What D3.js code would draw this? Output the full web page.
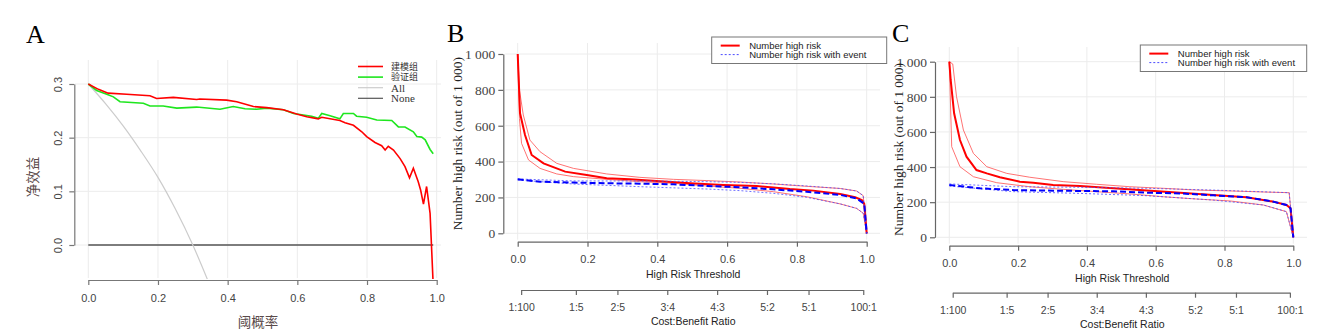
<!DOCTYPE html>
<html lang="zh">
<head>
  <meta charset="utf-8" />
  <title>DCA / clinical impact</title>
  <style>
    body { margin: 0; padding: 0; background: #fff; }
    svg { display: block; }
    .grid line { stroke: #ececec; stroke-width: 1; }
    .sans { font-family: "Liberation Sans", Arial, sans-serif; }
    .serif { font-family: "Liberation Serif", "Times New Roman", serif; }
  </style>
  <script src="https://d3js.org/d3.v7.min.js"></script>
</head>
<body>
  <svg width="1323" height="336"></svg>
  <script>
    // ---- Panel A: decision curves, [threshold, net benefit] ----
    const aModelKeys = ["建模组", "验证组", "All", "None"];
    const aModelColors = ["#ff0000", "#1ee61e", "#cccccc", "#555555"];
    const aTicksX = [0, 0.2, 0.4, 0.6, 0.8, 1.0];
    const aTicksY = [0, 0.1, 0.2, 0.3];

    const trainNB = [[0,0.300],[0.029,0.290],[0.057,0.283],[0.11,0.281],[0.177,0.278],[0.196,0.273],
      [0.244,0.275],[0.311,0.271],[0.32,0.272],[0.397,0.270],[0.426,0.267],[0.474,0.258],[0.512,0.256],
      [0.56,0.252],[0.598,0.244],[0.627,0.239],[0.66,0.235],[0.67,0.238],[0.722,0.232],[0.737,0.228],
      [0.761,0.223],[0.785,0.211],[0.799,0.202],[0.823,0.191],[0.842,0.185],[0.852,0.177],[0.861,0.184],
      [0.876,0.177],[0.895,0.161],[0.909,0.146],[0.922,0.125],[0.933,0.143],[0.947,0.118],[0.954,0.102],
      [0.962,0.076],[0.971,0.109],[0.981,0.059],[0.990,-0.075]];
    const validNB = [[0,0.300],[0.024,0.288],[0.053,0.281],[0.072,0.276],[0.091,0.267],[0.158,0.264],
      [0.177,0.259],[0.215,0.259],[0.254,0.255],[0.311,0.257],[0.378,0.253],[0.416,0.258],[0.45,0.254],
      [0.483,0.253],[0.512,0.255],[0.56,0.252],[0.589,0.245],[0.641,0.240],[0.66,0.236],[0.67,0.245],
      [0.694,0.241],[0.722,0.235],[0.732,0.245],[0.761,0.245],[0.770,0.240],[0.799,0.238],[0.828,0.233],
      [0.871,0.232],[0.890,0.220],[0.909,0.220],[0.933,0.211],[0.943,0.202],[0.957,0.201],[0.967,0.196],
      [0.981,0.178],[0.990,0.170]];
    const allNB = [[0,0.300],[0.05,0.263],[0.1,0.222],[0.15,0.176],[0.2,0.126],[0.25,0.067],
      [0.3,0.0],[0.35,-0.077]];
    const noneNB = [[0,0],[0.99,0]];

    // ---- Panels B / C: clinical impact curves, [threshold, number out of 1000] ----
    const impactKeys = ["Number high risk", "Number high risk with event"];
    const impactTicksY = [0, 200, 400, 600, 800, 1000];
    const costBenefit = ["1:100", "1:5", "2:5", "3:4", "4:3", "5:2", "5:1", "100:1"];

    const bHigh = [[0,1000],[0.0067,669],[0.021,548],[0.04,437],[0.074,390],[0.136,344],[0.198,325],
      [0.255,307],[0.322,301],[0.398,292],[0.494,279],[0.589,270],[0.685,264],[0.78,247],[0.847,238],
      [0.924,219],[0.967,201],[0.986,186],[0.993,164],[1,0]];
    const bHighUp = [[0,1000],[0.005,799],[0.016,660],[0.035,520],[0.064,455],[0.112,390],[0.16,362],
      [0.255,331],[0.35,312],[0.446,301],[0.542,294],[0.637,286],[0.733,275],[0.828,262],[0.924,250],
      [0.971,236],[0.990,210],[1,0]];
    const bHighLo = [[0,1000],[0.005,640],[0.011,502],[0.031,409],[0.064,362],[0.112,331],[0.16,316],
      [0.255,301],[0.35,288],[0.446,279],[0.542,264],[0.637,251],[0.733,232],[0.828,204],[0.924,164],
      [0.971,139],[0.99,112],[1,0]];
    const bEvent = [[0,301],[0.064,288],[0.16,283],[0.255,279],[0.35,277],[0.446,273],[0.542,264],
      [0.637,257],[0.733,245],[0.828,232],[0.924,214],[0.971,195],[0.993,164],[1,0]];
    const bEventUp = [[0,303],[0.16,292],[0.35,292],[0.542,288],[0.637,284],[0.733,276],[0.828,264],
      [0.924,250],[0.971,236],[0.990,210],[1,0]];
    const bEventLo = [[0,297],[0.16,275],[0.35,260],[0.542,247],[0.637,238],[0.733,223],[0.828,201],
      [0.924,164],[0.971,139],[0.99,112],[1,0]];

    const cHigh = [[0,1000],[0.004,896],[0.014,706],[0.031,554],[0.05,459],[0.079,383],[0.109,364],
      [0.147,342],[0.205,317],[0.244,311],[0.302,298],[0.38,292],[0.477,279],[0.574,266],[0.671,254],
      [0.767,241],[0.864,228],[0.942,203],[0.98,184],[0.992,165],[1,0]];
    const cHighUp = [[0,1000],[0.01,987],[0.021,801],[0.041,611],[0.07,478],[0.109,402],[0.167,364],
      [0.234,342],[0.331,317],[0.428,302],[0.525,288],[0.622,279],[0.719,269],[0.816,264],[0.913,258],
      [0.988,254],[1,0]];
    const cHighLo = [[0,1000],[0.007,516],[0.031,402],[0.07,345],[0.138,311],[0.234,288],[0.331,273],
      [0.428,260],[0.525,247],[0.622,231],[0.719,218],[0.816,207],[0.913,184],[0.98,146],[1,0]];
    const cEvent = [[0,298],[0.089,279],[0.186,269],[0.283,266],[0.38,264],[0.477,262],[0.574,254],
      [0.671,250],[0.767,239],[0.864,228],[0.942,203],[0.98,184],[0.992,165],[1,0]];
    const cEventUp = [[0,304],[0.186,288],[0.38,285],[0.574,279],[0.767,269],[0.988,254],[1,0]];
    const cEventLo = [[0,292],[0.186,260],[0.38,250],[0.574,237],[0.767,212],[0.913,184],[0.98,146],[1,0]];

    const svg = d3.select("svg");

    drawNetBenefit();
    drawImpact({
      letter: "B", letterX: 447, x0: 517.7, x1: 866.7, yTop: 54, yBot: 233.3,
      axisY: 503.3, gridTop: 43, gridRight: 880, xAxisY: 241.7, cbAxisY: 290,
      yLabelX: 457, legend: { x: 711.7, y: 37, w: 175, h: 26.5 },
      series: [bHigh, bHighUp, bHighLo, bEvent, bEventUp, bEventLo]
    });
    drawImpact({
      letter: "C", letterX: 892, x0: 949.3, x1: 1293.3, yTop: 61.7, yBot: 237.3,
      axisY: 935, gridTop: 47, gridRight: 1307, xAxisY: 245.7, cbAxisY: 292.7,
      yLabelX: 898, legend: { x: 1140.3, y: 45, w: 166.4, h: 26.5 },
      series: [cHigh, cHighUp, cHighLo, cEvent, cEventUp, cEventLo]
    });

    function styleAxis(g, color) {
      g.select(".domain").attr("stroke", color).attr("stroke-width", 1.2);
      g.selectAll(".tick line").attr("stroke", color).attr("stroke-width", 1.2);
      g.selectAll(".tick text").attr("fill", "#444").attr("font-family", null);
    }

    function drawNetBenefit() {
      const x = d3.scaleLinear().domain([0, 1]).range([88.3, 436.7]);
      const y = d3.scaleLinear().domain([0, 0.3]).range([245, 84]);
      const g = svg.append("g");

      g.append("text").attr("class", "serif").attr("x", 26).attr("y", 43)
        .attr("font-size", 26).text("A");

      const grid = g.append("g").attr("class", "grid");
      grid.selectAll("line.v").data(aTicksX).join("line").attr("class", "v")
        .attr("x1", d => x(d)).attr("x2", d => x(d)).attr("y1", 60).attr("y2", 278);
      grid.selectAll("line.h").data(aTicksY).join("line").attr("class", "h")
        .attr("x1", 75).attr("x2", 441).attr("y1", d => y(d)).attr("y2", d => y(d));

      g.append("defs").append("clipPath").attr("id", "clipA")
        .append("rect").attr("x", 75).attr("y", 58).attr("width", 366).attr("height", 221);

      const line = d3.line().x(d => x(d[0])).y(d => y(d[1]));
      const plot = g.append("g").attr("clip-path", "url(#clipA)").attr("fill", "none");
      plot.append("path").datum(noneNB).attr("d", line).attr("stroke", aModelColors[3]).attr("stroke-width", 1.3);
      plot.append("path").datum(allNB).attr("d", d3.line().curve(d3.curveMonotoneX).x(d => x(d[0])).y(d => y(d[1])))
        .attr("stroke", aModelColors[2]).attr("stroke-width", 1.2);
      plot.append("path").datum(validNB).attr("d", line).attr("stroke", aModelColors[1]).attr("stroke-width", 1.6);
      plot.append("path").datum(trainNB).attr("d", line).attr("stroke", aModelColors[0]).attr("stroke-width", 1.6);

      // x axis
      const gx = g.append("g").attr("class", "sans").attr("transform", "translate(0,280)")
        .call(d3.axisBottom(x).tickValues(aTicksX).tickFormat(d3.format(".1f")).tickSize(5).tickSizeOuter(0));
      styleAxis(gx, "#777");
      gx.selectAll(".tick text").attr("font-size", 11).attr("y", 22).attr("dy", 0);

      // y axis, labels turned to read upward
      const gy = g.append("g").attr("class", "sans").attr("transform", "translate(74.3,0)")
        .call(d3.axisLeft(y).tickValues(aTicksY).tickFormat(d3.format(".1f")).tickSize(5).tickSizeOuter(0));
      styleAxis(gy, "#777");
      gy.selectAll(".tick text").attr("font-size", 11).attr("transform", "rotate(-90)")
        .attr("x", 0).attr("y", -12.5).attr("dy", 0).attr("text-anchor", "middle");

      g.append("text").attr("transform", "translate(38,177) rotate(-90)")
        .attr("text-anchor", "middle").attr("font-family", "'Noto Sans CJK SC', sans-serif")
        .attr("font-size", 13.5).attr("fill", "#5a4a4a").text("净效益");
      g.append("text").attr("x", 258).attr("y", 327)
        .attr("text-anchor", "middle").attr("font-family", "'Noto Sans CJK SC', sans-serif")
        .attr("font-size", 13.5).attr("fill", "#5a4a4a").text("阈概率");

      // legend
      const leg = g.append("g").attr("transform", "translate(358,66.5)");
      aModelKeys.forEach((k, i) => {
        const row = leg.append("g").attr("transform", `translate(0,${i * 10.6})`);
        row.append("line").attr("x1", 0).attr("x2", 25).attr("stroke", aModelColors[i])
          .attr("stroke-width", i < 2 ? 1.6 : 1.2);
        row.append("text").attr("x", 33).attr("dy", "0.35em").attr("font-size", i < 2 ? 9 : 11)
          .attr("font-family", i < 2 ? "'Noto Sans CJK SC', sans-serif" : "'Liberation Serif', serif")
          .attr("fill", "#333").text(k);
      });
    }

    function drawImpact(c) {
      const x = d3.scaleLinear().domain([0, 1]).range([c.x0, c.x1]);
      const y = d3.scaleLinear().domain([0, 1000]).range([c.yBot, c.yTop]);
      const g = svg.append("g");

      g.append("text").attr("class", "serif").attr("x", c.letterX).attr("y", 42)
        .attr("font-size", 26).text(c.letter);

      const grid = g.append("g").attr("class", "grid");
      grid.selectAll("line.v").data(aTicksX).join("line").attr("class", "v")
        .attr("x1", d => x(d)).attr("x2", d => x(d)).attr("y1", c.gridTop).attr("y2", c.xAxisY - 2);
      grid.selectAll("line.h").data(impactTicksY).join("line").attr("class", "h")
        .attr("x1", c.axisY + 2).attr("x2", c.gridRight).attr("y1", d => y(d)).attr("y2", d => y(d));

      const line = d3.line().x(d => x(d[0])).y(d => y(d[1]));
      const plot = g.append("g").attr("fill", "none");
      const [high, highUp, highLo, ev, evUp, evLo] = c.series;
      [highUp, highLo].forEach(s => plot.append("path").datum(s).attr("d", line)
        .attr("stroke", "#ff5a5a").attr("stroke-opacity", 0.85).attr("stroke-width", 1));
      plot.append("path").datum(high).attr("d", line).attr("stroke", "#ff0000").attr("stroke-width", 2);
      [evUp, evLo].forEach(s => plot.append("path").datum(s).attr("d", line)
        .attr("stroke", "#4b4bff").attr("stroke-opacity", 0.8).attr("stroke-width", 1)
        .attr("stroke-dasharray", "2,2"));
      plot.append("path").datum(ev).attr("d", line).attr("stroke", "#0000ff").attr("stroke-width", 2)
        .attr("stroke-dasharray", "6,3");

      // threshold axis
      const gx = g.append("g").attr("class", "sans").attr("transform", `translate(0,${c.xAxisY})`)
        .call(d3.axisBottom(x).tickValues(aTicksX).tickFormat(d3.format(".1f")).tickSize(5).tickSizeOuter(0));
      styleAxis(gx, "#666");
      gx.selectAll(".tick text").attr("font-size", 11).attr("y", 21).attr("dy", 0);
      g.append("text").attr("class", "sans").attr("x", (c.x0 + c.x1) / 2 + 1).attr("y", c.xAxisY + 36)
        .attr("text-anchor", "middle").attr("font-size", 10.5).attr("fill", "#222").text("High Risk Threshold");

      // cost:benefit axis, tick at threshold a/(a+b)
      const cbPos = costBenefit.map(s => { const [a, b] = s.split(":").map(Number); return a / (a + b); });
      const xCB = d3.scaleLinear().domain([cbPos[0], cbPos[cbPos.length - 1]])
        .range([x(cbPos[0]), x(cbPos[cbPos.length - 1])]);
      const gcb = g.append("g").attr("class", "sans").attr("transform", `translate(0,${c.cbAxisY})`)
        .call(d3.axisBottom(xCB).tickValues(cbPos).tickFormat((d, i) => costBenefit[i]).tickSize(5).tickSizeOuter(0));
      styleAxis(gcb, "#666");
      gcb.selectAll(".tick text").attr("font-size", 10.5).attr("y", 21).attr("dy", 0);
      g.append("text").attr("class", "sans").attr("x", (c.x0 + c.x1) / 2 + 1).attr("y", c.cbAxisY + 35)
        .attr("text-anchor", "middle").attr("font-size", 10.5).attr("fill", "#222").text("Cost:Benefit Ratio");

      // count axis
      const gy = g.append("g").attr("class", "serif").attr("transform", `translate(${c.axisY},0)`)
        .call(d3.axisLeft(y).tickValues(impactTicksY).tickFormat(d => d3.format(",")(d).replace(",", " "))
          .tickSize(5).tickSizeOuter(0));
      styleAxis(gy, "#666");
      gy.selectAll(".tick text").attr("font-size", 13.5).attr("x", -8).attr("dy", "0.32em");
      g.append("text").attr("class", "serif")
        .attr("transform", `translate(${c.yLabelX},${(c.yTop + c.yBot) / 2}) rotate(-90)`)
        .attr("text-anchor", "middle").attr("dy", "0.35em").attr("font-size", 13.5).attr("fill", "#222")
        .text("Number high risk (out of 1 000)");

      // legend box
      const L = c.legend;
      const leg = g.append("g").attr("transform", `translate(${L.x},${L.y})`);
      leg.append("rect").attr("width", L.w).attr("height", L.h).attr("fill", "#fff")
        .attr("stroke", "#777").attr("stroke-width", 1);
      impactKeys.forEach((k, i) => {
        const ly = 8.6 + i * 9;
        leg.append("line").attr("x1", 9).attr("x2", 28).attr("y1", ly).attr("y2", ly)
          .attr("stroke", i ? "#4b4bff" : "#ff0000").attr("stroke-width", i ? 1 : 2)
          .attr("stroke-dasharray", i ? "2,2" : null);
        leg.append("text").attr("class", "sans").attr("x", 37.5).attr("y", ly).attr("dy", "0.35em")
          .attr("font-size", 9.5).attr("fill", "#222").text(k);
      });
    }
  </script>
</body>
</html>
